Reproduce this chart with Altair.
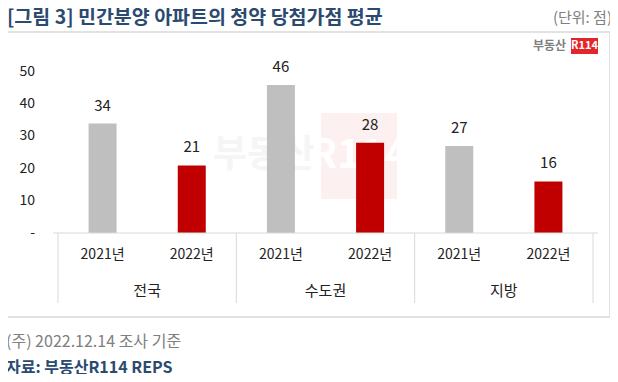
import altair as alt
import pandas as pd

regions = ["전국", "전국", "수도권", "수도권", "지방", "지방"]
years = ["2021년", "2022년", "2021년", "2022년", "2021년", "2022년"]
values = [34, 21, 46, 28, 27, 16]
group_names = ["전국", "수도권", "지방"]
y_ticks = [0, 10, 20, 30, 40, 50]
y_tick_labels = ["-", "10", "20", "30", "40", "50"]

FONT = "Noto Sans CJK KR"

df = pd.DataFrame({
    "region": regions,
    "year": years,
    "value": values,
    "pos": [i + 0.5 for i in range(len(values))],
})
groups = pd.DataFrame({"name": group_names, "pos": [1 + 2 * i for i in range(len(group_names))]})
dividers = pd.DataFrame({"pos": [0, 2, 4, 6]})
ticks = pd.DataFrame({"v": y_ticks, "label": y_tick_labels})
one = pd.DataFrame({"a": [0]})

xs = alt.Scale(domain=[0, 6], nice=False, zero=False)
ys = alt.Scale(domain=[0, 50], nice=False)

bars = alt.Chart(df).mark_bar(size=28).encode(
    x=alt.X("pos:Q", scale=xs, axis=None),
    y=alt.Y("value:Q", scale=ys, axis=None),
    color=alt.Color("year:N", scale=alt.Scale(domain=["2021년", "2022년"], range=["#BFBFBF", "#C00000"]), legend=None),
)

ytext = alt.Chart(ticks).mark_text(align="right", baseline="middle", fontSize=14, font=FONT, color="#222222").encode(
    x=alt.value(-18), y=alt.Y("v:Q", scale=ys), text="label:N")

vlabels = alt.Chart(df).mark_text(dy=-10, baseline="bottom", fontSize=15, font=FONT, color="#222222").encode(
    x=alt.X("pos:Q", scale=xs), y=alt.Y("value:Q", scale=ys), text="value:Q")

ylabels = alt.Chart(df).mark_text(fontSize=14, font=FONT, color="#222222", baseline="middle").encode(
    x=alt.X("pos:Q", scale=xs), y=alt.value(183), text="year:N")

glabels = alt.Chart(groups).mark_text(fontSize=15, font=FONT, color="#222222", baseline="middle").encode(
    x=alt.X("pos:Q", scale=xs), y=alt.value(219), text="name:N")

divs = alt.Chart(dividers).mark_rule(color="#D9D9D9", strokeWidth=1).encode(
    x=alt.X("pos:Q", scale=xs), y=alt.value(161), y2=alt.value(231))

baseline = alt.Chart(one).mark_rule(color="#D9D9D9", strokeWidth=1).encode(
    x=alt.value(0), x2=alt.value(545), y=alt.value(161))

border = alt.Chart(one).mark_rect(fill=None, stroke="#D9D9D9", strokeWidth=1.5).encode(
    x=alt.value(-48), x2=alt.value(557), y=alt.value(-40), y2=alt.value(245))

title = alt.Chart(one).mark_text(text="[그림 3] 민간분양 아파트의 청약 당첨가점 평균", align="left", baseline="middle",
    fontSize=19.5, fontWeight="bold", font=FONT, color="#2B4A6F").encode(x=alt.value(-46), y=alt.value(-54))

unit = alt.Chart(one).mark_text(text="(단위: 점)", align="right", baseline="middle",
    fontSize=15, font=FONT, color="#808080").encode(x=alt.value(559), y=alt.value(-54))

logo_txt = alt.Chart(one).mark_text(text="부동산", align="right", baseline="middle",
    fontSize=12, fontWeight="bold", font=FONT, color="#7F7F7F").encode(x=alt.value(513), y=alt.value(-26))
logo_box = alt.Chart(one).mark_rect(fill="#E3262B").encode(
    x=alt.value(518), x2=alt.value(545), y=alt.value(-34), y2=alt.value(-18))
logo_r = alt.Chart(one).mark_text(text="R114", align="center", baseline="middle",
    fontSize=11, fontWeight="bold", font=FONT, color="white").encode(x=alt.value(531.5), y=alt.value(-26))

wm_box = alt.Chart(one).mark_rect(fill="#FDF0F0").encode(
    x=alt.value(268), x2=alt.value(344), y=alt.value(41), y2=alt.value(127))
wm_txt = alt.Chart(one).mark_text(text="부동산", align="right", baseline="middle",
    fontSize=37, fontWeight="bold", font=FONT, color="#F5F5F5").encode(x=alt.value(262), y=alt.value(84))
wm_r = alt.Chart(one).mark_text(text="R114", align="center", baseline="middle",
    fontSize=40, fontWeight="bold", font=FONT, color="#FFFFFF").encode(x=alt.value(306), y=alt.value(84))

note = alt.Chart(one).mark_text(text="(주) 2022.12.14 조사 기준", align="left", baseline="middle",
    fontSize=16, font=FONT, color="#808080").encode(x=alt.value(-47), y=alt.value(270))
source = alt.Chart(one).mark_text(text="자료: 부동산R114 REPS", align="left", baseline="middle",
    fontSize=16, fontWeight="bold", font=FONT, color="#2B4A6F").encode(x=alt.value(-47), y=alt.value(296))

chart = alt.layer(
    border, wm_box, wm_txt, wm_r, bars, ytext, vlabels, baseline, divs, ylabels, glabels,
    title, unit, logo_txt, logo_box, logo_r, note, source
).properties(
    width=545, height=161,
    autosize=alt.AutoSizeParams(type="none"),
    padding={"left": 45, "top": 64, "right": 12, "bottom": 141},
).configure_view(stroke=None)

chart.save("out.html", embed_options={"renderer": "svg", "actions": False})
